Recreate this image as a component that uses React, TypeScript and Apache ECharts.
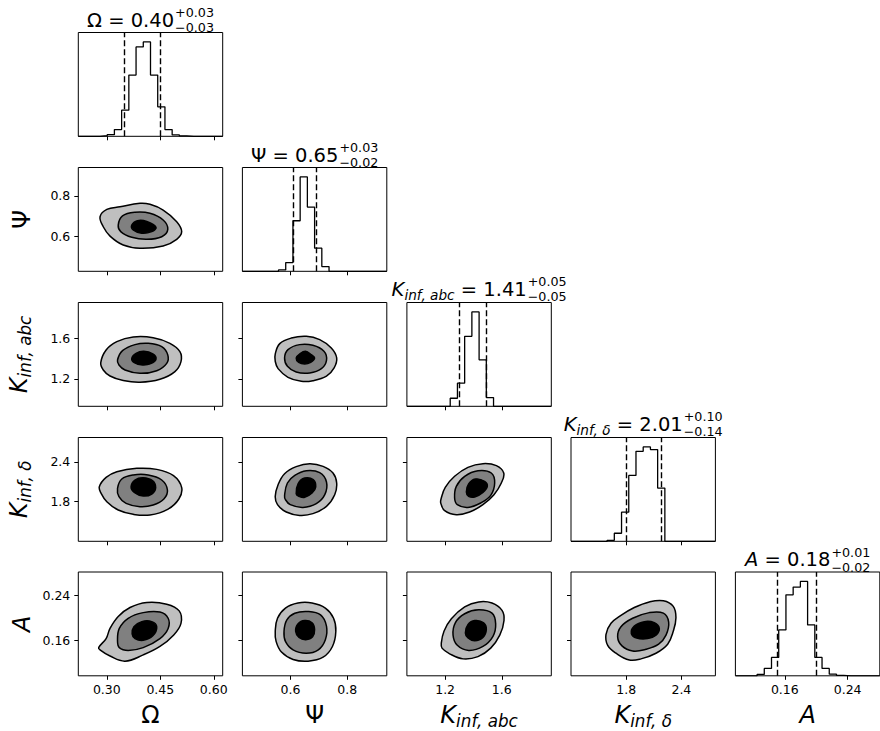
import React, { useEffect, useRef } from 'react';
import * as echarts from 'echarts';

// ---------- data ----------
const omegaRange = [0.22, 0.625];
const psiRange = [0.43, 0.94];
const kabcRange = [0.93, 1.95];
const kdeltaRange = [1.2, 2.77];
const aRange = [0.097, 0.281];

const omegaTicks = [0.3, 0.45, 0.6];
const psiTicks = [0.6, 0.8];
const kabcTicks = [1.2, 1.6];
const kdeltaTicks = [1.8, 2.4];
const aTicks = [0.16, 0.24];
const tickDecimals = [2, 1, 1, 1, 2];

const medians = [0.40, 0.65, 1.41, 2.01, 0.18];
const upperErrors = [0.03, 0.03, 0.05, 0.10, 0.01];
const lowerErrors = [0.03, 0.02, 0.05, 0.14, 0.02];

// 20-bin histogram counts (relative)
const omegaHist = [0, 0, 0, 2, 5, 20, 78, 183, 267, 282, 183, 88, 20, 4, 1, 0, 0, 0, 0, 0];
const psiHist = [0, 0, 0, 0, 0, 4, 26, 151, 282, 192, 69, 14, 0, 0, 0, 0, 0, 0, 0, 0];
const kabcHist = [0, 0, 0, 0, 0, 0, 24, 69, 209, 282, 139, 26, 0, 0, 0, 0, 0, 0, 0, 0];
const kdeltaHist = [0, 0, 0, 0, 0, 3, 24, 87, 197, 269, 282, 274, 159, 0, 0, 0, 0, 0, 0, 0];
const aHist = [0, 0, 0, 4, 22, 55, 137, 242, 265, 282, 152, 55, 22, 5, 1, 0, 0, 0, 0, 0];

const omegaQuantiles = [0.353, 0.452];
const psiQuantiles = [0.61, 0.695];
const kabcQuantiles = [1.305, 1.489];
const kdeltaQuantiles = [1.805, 2.178];
const aQuantiles = [0.152, 0.2005];

// contour levels: [outer, middle, inner]
const contourPsiOmega = [
  [[0.281, 0.698], [0.300, 0.734], [0.337, 0.747], [0.393, 0.764], [0.421, 0.759], [0.458, 0.731], [0.496, 0.674], [0.510, 0.625], [0.496, 0.587], [0.458, 0.554], [0.393, 0.543], [0.346, 0.559], [0.309, 0.603], [0.290, 0.649]],
  [[0.332, 0.657], [0.344, 0.702], [0.379, 0.720], [0.421, 0.715], [0.458, 0.682], [0.471, 0.636], [0.454, 0.600], [0.412, 0.587], [0.370, 0.597], [0.339, 0.625]],
  [[0.370, 0.657], [0.386, 0.679], [0.412, 0.675], [0.438, 0.646], [0.426, 0.625], [0.398, 0.617], [0.374, 0.633]],
];
const contourKabcOmega = [
  [[0.283, 1.359], [0.298, 1.483], [0.328, 1.565], [0.374, 1.611], [0.430, 1.604], [0.477, 1.549], [0.505, 1.467], [0.508, 1.369], [0.491, 1.271], [0.449, 1.195], [0.393, 1.166], [0.346, 1.183], [0.309, 1.228], [0.290, 1.287]],
  [[0.330, 1.385], [0.344, 1.477], [0.379, 1.536], [0.416, 1.549], [0.454, 1.516], [0.471, 1.434], [0.468, 1.352], [0.440, 1.280], [0.393, 1.254], [0.351, 1.287], [0.334, 1.336]],
  [[0.370, 1.402], [0.382, 1.451], [0.404, 1.470], [0.429, 1.444], [0.438, 1.395], [0.423, 1.349], [0.400, 1.336], [0.377, 1.359]],
];
const contourKdeltaOmega = [
  [[0.279, 2.026], [0.298, 2.167], [0.328, 2.253], [0.384, 2.304], [0.440, 2.288], [0.487, 2.193], [0.510, 2.011], [0.502, 1.840], [0.472, 1.688], [0.421, 1.598], [0.374, 1.608], [0.332, 1.673], [0.300, 1.799], [0.284, 1.925]],
  [[0.330, 2.001], [0.342, 2.142], [0.374, 2.203], [0.416, 2.203], [0.454, 2.127], [0.470, 1.976], [0.460, 1.840], [0.430, 1.749], [0.393, 1.724], [0.354, 1.774], [0.334, 1.875]],
  [[0.368, 2.026], [0.379, 2.127], [0.402, 2.162], [0.428, 2.117], [0.437, 2.011], [0.426, 1.915], [0.402, 1.885], [0.377, 1.940]],
];
const contourAOmega = [
  [[0.277, 0.147], [0.298, 0.163], [0.309, 0.181], [0.332, 0.202], [0.365, 0.218], [0.412, 0.227], [0.468, 0.224], [0.503, 0.212], [0.508, 0.190], [0.487, 0.169], [0.449, 0.149], [0.402, 0.134], [0.351, 0.123], [0.309, 0.132], [0.281, 0.143]],
  [[0.330, 0.159], [0.335, 0.181], [0.360, 0.199], [0.402, 0.209], [0.449, 0.210], [0.472, 0.199], [0.472, 0.181], [0.449, 0.163], [0.402, 0.147], [0.360, 0.142], [0.335, 0.147]],
  [[0.371, 0.171], [0.376, 0.184], [0.398, 0.193], [0.426, 0.193], [0.440, 0.184], [0.429, 0.168], [0.402, 0.160], [0.379, 0.163]],
];
const contourKabcPsi = [
  [[0.546, 1.444], [0.562, 1.546], [0.603, 1.601], [0.656, 1.618], [0.703, 1.585], [0.744, 1.503], [0.763, 1.405], [0.754, 1.307], [0.727, 1.226], [0.679, 1.182], [0.638, 1.176], [0.591, 1.215], [0.556, 1.300], [0.546, 1.372]],
  [[0.579, 1.405], [0.591, 1.487], [0.632, 1.536], [0.679, 1.529], [0.718, 1.470], [0.727, 1.382], [0.709, 1.300], [0.668, 1.258], [0.620, 1.267], [0.589, 1.323]],
  [[0.620, 1.405], [0.632, 1.444], [0.653, 1.470], [0.673, 1.438], [0.685, 1.405], [0.671, 1.362], [0.650, 1.346], [0.629, 1.362]],
];
const contourKdeltaPsi = [
  [[0.546, 1.880], [0.556, 2.056], [0.579, 2.223], [0.620, 2.329], [0.668, 2.374], [0.715, 2.334], [0.750, 2.233], [0.763, 2.082], [0.756, 1.905], [0.727, 1.729], [0.679, 1.618], [0.632, 1.592], [0.585, 1.643], [0.554, 1.754]],
  [[0.579, 1.895], [0.589, 2.082], [0.615, 2.198], [0.656, 2.268], [0.703, 2.238], [0.727, 2.097], [0.721, 1.905], [0.691, 1.769], [0.644, 1.713], [0.599, 1.754], [0.582, 1.830]],
  [[0.620, 1.915], [0.627, 2.072], [0.650, 2.157], [0.680, 2.132], [0.689, 2.021], [0.676, 1.930], [0.650, 1.865], [0.632, 1.875]],
];
const contourKdeltaKabc = [
  [[1.173, 1.855], [1.201, 2.016], [1.267, 2.183], [1.361, 2.319], [1.467, 2.374], [1.562, 2.344], [1.614, 2.233], [1.597, 2.082], [1.545, 1.905], [1.467, 1.754], [1.373, 1.643], [1.279, 1.603], [1.197, 1.663], [1.169, 1.779]],
  [[1.267, 1.855], [1.279, 2.031], [1.338, 2.183], [1.432, 2.268], [1.526, 2.233], [1.550, 2.082], [1.522, 1.895], [1.451, 1.779], [1.361, 1.713], [1.286, 1.754]],
  [[1.350, 1.945], [1.366, 2.067], [1.413, 2.142], [1.479, 2.107], [1.498, 2.031], [1.467, 1.940], [1.409, 1.870], [1.366, 1.880]],
];
const contourAPsi = [
  [[0.546, 0.176], [0.554, 0.199], [0.582, 0.217], [0.626, 0.226], [0.676, 0.226], [0.723, 0.217], [0.752, 0.199], [0.760, 0.176], [0.748, 0.149], [0.715, 0.130], [0.662, 0.123], [0.609, 0.126], [0.568, 0.139], [0.549, 0.158]],
  [[0.577, 0.176], [0.587, 0.196], [0.615, 0.208], [0.662, 0.211], [0.706, 0.205], [0.727, 0.185], [0.723, 0.161], [0.698, 0.143], [0.655, 0.137], [0.609, 0.143], [0.582, 0.158]],
  [[0.618, 0.176], [0.626, 0.189], [0.650, 0.195], [0.676, 0.191], [0.685, 0.179], [0.678, 0.166], [0.654, 0.161], [0.630, 0.165]],
];
const contourAKabc = [
  [[1.173, 0.155], [1.192, 0.176], [1.244, 0.198], [1.338, 0.219], [1.437, 0.228], [1.531, 0.226], [1.602, 0.213], [1.616, 0.195], [1.586, 0.169], [1.522, 0.146], [1.432, 0.131], [1.326, 0.127], [1.232, 0.136], [1.178, 0.146]],
  [[1.256, 0.169], [1.272, 0.191], [1.338, 0.207], [1.437, 0.214], [1.531, 0.208], [1.557, 0.189], [1.538, 0.167], [1.467, 0.149], [1.366, 0.142], [1.286, 0.151]],
  [[1.343, 0.173], [1.362, 0.188], [1.409, 0.195], [1.472, 0.191], [1.491, 0.179], [1.467, 0.165], [1.409, 0.159], [1.362, 0.164]],
];
const contourAKdelta = [
  [[1.580, 0.170], [1.635, 0.190], [1.743, 0.204], [1.888, 0.218], [2.051, 0.228], [2.204, 0.230], [2.312, 0.220], [2.341, 0.200], [2.312, 0.176], [2.251, 0.153], [2.124, 0.137], [1.961, 0.127], [1.834, 0.125], [1.689, 0.137], [1.599, 0.151]],
  [[1.707, 0.166], [1.743, 0.184], [1.870, 0.199], [2.051, 0.209], [2.204, 0.208], [2.262, 0.192], [2.233, 0.169], [2.153, 0.153], [2.015, 0.144], [1.870, 0.141], [1.754, 0.150]],
  [[1.856, 0.172], [1.888, 0.185], [1.997, 0.193], [2.106, 0.191], [2.160, 0.181], [2.124, 0.169], [2.033, 0.163], [1.914, 0.164]],
];

// ---------- layout / style ----------
const FONT = 'DejaVu Sans';
const colLeft = [78.3, 242.4, 406.9, 571, 735.4];
const rowTop = [32.5, 167.5, 302.5, 437.5, 572];
const PW = 144.4;
const PH = 103.8;
const contourFills = ['#bfbfbf', '#808080', '#000000'];

const ranges = [omegaRange, psiRange, kabcRange, kdeltaRange, aRange];
const ticks = [omegaTicks, psiTicks, kabcTicks, kdeltaTicks, aTicks];
const hists = [omegaHist, psiHist, kabcHist, kdeltaHist, aHist];
const quantiles = [omegaQuantiles, psiQuantiles, kabcQuantiles, kdeltaQuantiles, aQuantiles];
const contours: Record<string, number[][][]> = {
  '1-0': contourPsiOmega,
  '2-0': contourKabcOmega,
  '2-1': contourKabcPsi,
  '3-0': contourKdeltaOmega,
  '3-1': contourKdeltaPsi,
  '3-2': contourKdeltaKabc,
  '4-0': contourAOmega,
  '4-1': contourAPsi,
  '4-2': contourAKabc,
  '4-3': contourAKdelta,
};

type Piece = { t: string; it?: boolean; sub?: boolean };
const labelPieces: Piece[][] = [
  [{ t: 'Ω' }],
  [{ t: 'Ψ' }],
  [{ t: 'K', it: true }, { t: 'inf, abc', it: true, sub: true }],
  [{ t: 'K', it: true }, { t: 'inf, δ', it: true, sub: true }],
  [{ t: 'A', it: true }],
];

let measureCtx: CanvasRenderingContext2D | null = null;
function measure(text: string, size: number, italic?: boolean) {
  if (!measureCtx) measureCtx = document.createElement('canvas').getContext('2d');
  measureCtx!.font = `${italic ? 'italic ' : ''}${size}px "${FONT}"`;
  return measureCtx!.measureText(text).width;
}

type Item = { text: string; x: number; size: number; it?: boolean; dy: number };
function layoutPieces(pieces: Piece[], base: number, subShift: number) {
  const small = base * 0.7;
  let x = 0;
  const items: Item[] = [];
  for (const p of pieces) {
    const size = p.sub ? small : base;
    items.push({ text: p.t, x, size, it: p.it, dy: p.sub ? base * subShift : 0 });
    x += measure(p.t, size, p.it);
  }
  return { items, width: x };
}

function textEl(it: Item, x: number, baseline: number) {
  return {
    type: 'text',
    x,
    y: baseline + it.dy - 0.346 * it.size,
    silent: true,
    style: {
      text: it.text,
      fontSize: it.size,
      fontFamily: FONT,
      fontStyle: it.it ? 'italic' : 'normal',
      fill: '#000',
      align: 'left',
      verticalAlign: 'middle',
      textAlign: 'left',
      textVerticalAlign: 'middle',
    },
  };
}

function buildOption() {
  const grids: any[] = [];
  const xAxes: any[] = [];
  const yAxes: any[] = [];
  const series: any[] = [];
  const graphics: any[] = [];
  let k = 0;

  const axisCommon = (p: number, showLabels: boolean, margin: number) => ({
    type: 'value',
    min: ranges[p][0],
    max: ranges[p][1],
    axisLine: { show: false },
    splitLine: { show: false },
    axisTick: {
      show: true,
      inside: false,
      length: 4,
      customValues: ticks[p],
      lineStyle: { color: '#000', width: 1 },
    },
    axisLabel: {
      show: showLabels,
      customValues: ticks[p],
      formatter: (v: number) => v.toFixed(tickDecimals[p]),
      fontSize: 12.5,
      fontFamily: FONT,
      color: '#000',
      margin,
    },
  });

  for (let i = 0; i < 5; i++) {
    for (let j = 0; j <= i; j++) {
      grids.push({
        left: colLeft[j],
        top: rowTop[i],
        width: PW,
        height: PH,
        show: true,
        borderColor: '#000',
        borderWidth: 1,
        backgroundColor: 'transparent',
        containLabel: false,
        outerBoundsMode: 'none',
      });
      xAxes.push({ gridIndex: k, ...axisCommon(j, i === 4, 7) });
      if (i === j) {
        const counts = hists[i];
        const [lo, hi] = ranges[i];
        const w = (hi - lo) / counts.length;
        const pts = counts.map((c, b) => [lo + b * w, c]);
        pts.push([hi, counts[counts.length - 1]]);
        yAxes.push({ gridIndex: k, type: 'value', min: 0, max: Math.max(...counts) * 1.1, show: false });
        series.push({
          type: 'line',
          xAxisIndex: k,
          yAxisIndex: k,
          step: 'end',
          data: pts,
          symbol: 'none',
          showSymbol: false,
          lineStyle: { color: '#000', width: 1.3 },
          markLine: {
            silent: true,
            symbol: ['none', 'none'],
            label: { show: false },
            lineStyle: { color: '#000', width: 1.4, type: [6, 3] },
            data: quantiles[i].map((q) => ({ xAxis: q })),
          },
        });
      } else {
        yAxes.push({ gridIndex: k, ...axisCommon(i, j === 0, 8) });
        const levels = contours[`${i}-${j}`];
        series.push({
          type: 'custom',
          xAxisIndex: k,
          yAxisIndex: k,
          data: levels.map((l) => l[0]),
          renderItem: (params: any, api: any) => {
            const ring = levels[params.dataIndex];
            const points = ring.map((p) => api.coord(p));
            return {
              type: 'polygon',
              z2: params.dataIndex,
              shape: { points, smooth: 0.4 },
              style: { fill: contourFills[params.dataIndex], stroke: '#000', lineWidth: 1.5 },
            };
          },
        });
      }
      k++;
    }
  }

  // titles above diagonal panels
  for (let p = 0; p < 5; p++) {
    const base = 19.5;
    const small = 12.7;
    const { items, width } = layoutPieces([...labelPieces[p], { t: ` = ${medians[p].toFixed(2)}` }], base, 0.2);
    const sup = '+' + upperErrors[p].toFixed(2);
    const sub = '\u2212' + lowerErrors[p].toFixed(2);
    const ws = Math.max(measure(sup, small), measure(sub, small));
    items.push({ text: sup, x: width + 1, size: small, dy: -10 });
    items.push({ text: sub, x: width + 1, size: small, dy: 5.2 });
    const total = width + ws + 1;
    const cx = colLeft[p] + PW / 2;
    const x0 = cx - total / 2;
    const hasSub = labelPieces[p].some((q) => q.sub);
    const baseline = rowTop[p] - (hasSub ? 6.5 : 5.5);
    for (const it of items) graphics.push(textEl(it, x0 + it.x, baseline));
  }

  // bottom axis labels
  for (let p = 0; p < 5; p++) {
    const { items, width } = layoutPieces(labelPieces[p], 24, 0.13);
    const cx = colLeft[p] + PW / 2;
    for (const it of items) graphics.push(textEl(it, cx - width / 2 + it.x, 723.5));
  }

  // left axis labels (rotated)
  for (let p = 1; p < 5; p++) {
    const { items, width } = layoutPieces(labelPieces[p], 24, 0.15);
    const hasSub = labelPieces[p].some((q) => q.sub);
    graphics.push({
      type: 'group',
      x: hasSub ? 27 : 30,
      y: rowTop[p] + PH / 2,
      rotation: Math.PI / 2,
      children: items.map((it) => textEl(it, -width / 2 + it.x, 0)),
    });
  }

  return {
    animation: false,
    backgroundColor: '#fff',
    grid: grids,
    xAxis: xAxes,
    yAxis: yAxes,
    series,
    graphic: { elements: graphics },
  };
}

export default function App() {
  const ref = useRef<HTMLDivElement>(null);
  useEffect(() => {
    if (!ref.current) return;
    const chart = echarts.init(ref.current, null, { renderer: 'svg' });
    chart.setOption(buildOption() as any);
    return () => chart.dispose();
  }, []);
  return (
    <div
      ref={ref}
      style={{ position: 'fixed', left: 0, top: 0, width: 880, height: 731, background: '#fff' }}
    />
  );
}
